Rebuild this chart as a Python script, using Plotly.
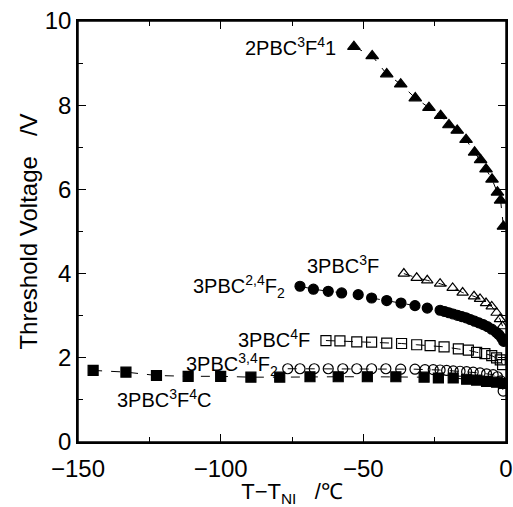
import plotly.graph_objects as go

# 2PBC3F41 (filled triangles)
x_2pbc3f41 = [-53.3, -46.9, -41.8, -36.9, -31.8, -27.0, -22.9, -20.0, -17.1, -14.0, -11.0, -8.9, -7.0, -4.9, -3.0, -1.9, -0.9]
y_2pbc3f41 = [9.39, 9.17, 8.74, 8.50, 8.17, 7.94, 7.75, 7.53, 7.40, 7.18, 6.88, 6.70, 6.48, 6.24, 5.93, 5.74, 5.12]

# 3PBC3F (open triangles)
x_3pbc3f = [-35.8, -31.3, -27.6, -23.1, -18.7, -15.2, -11.2, -9.1, -7.0, -5.0, -3.3, -2.1, -1.2]
y_3pbc3f = [4.00, 3.90, 3.84, 3.76, 3.66, 3.55, 3.46, 3.40, 3.30, 3.22, 3.07, 2.92, 2.75]

# 3PBC2,4F2 (filled circles)
x_3pbc24f2 = [-72.2, -67.5, -62.3, -57.6, -51.8, -47.1, -41.8, -36.8, -31.9, -27.6, -23.1,
              -21.5, -20.0, -18.5, -17.0, -15.5, -14.0, -12.5, -11.0, -9.5, -8.0, -6.5, -5.0, -3.5, -2.5, -1.5, -0.8]
y_3pbc24f2 = [3.70, 3.63, 3.58, 3.54, 3.50, 3.42, 3.36, 3.30, 3.24, 3.18, 3.13,
              3.10, 3.07, 3.04, 3.01, 2.98, 2.95, 2.91, 2.87, 2.83, 2.79, 2.74, 2.68, 2.61, 2.55, 2.47, 2.39]

# 3PBC4F (open squares)
x_3pbc4f = [-63.1, -58.2, -52.3, -47.1, -41.8, -36.6, -31.3, -26.6, -21.7, -16.7, -13.2, -10.3, -7.4, -5.0, -3.3, -2.0, -1.2]
y_3pbc4f = [2.41, 2.40, 2.38, 2.37, 2.35, 2.34, 2.31, 2.29, 2.26, 2.21, 2.18, 2.13, 2.10, 2.05, 2.00, 1.95, 1.84]

# 3PBC3,4F2 (open circles)
x_3pbc34f2 = [-76.5, -72.2, -67.2, -62.3, -57.2, -52.3, -47.1, -42.1, -36.9, -31.9, -28.4, -25.5, -23.1,
              -20.8, -18.5, -16.1, -13.8, -11.5, -9.1, -6.8, -4.5, -3.0, -1.8, -1.0]
y_3pbc34f2 = [1.74, 1.74, 1.74, 1.74, 1.74, 1.74, 1.74, 1.74, 1.73, 1.73, 1.72, 1.72, 1.71,
              1.70, 1.69, 1.68, 1.67, 1.66, 1.64, 1.62, 1.60, 1.55, 1.45, 1.21]

# 3PBC3F4C (filled squares)
x_3pbc3f4c = [-144.7, -133.2, -122.5, -111.4, -100.0, -89.4, -79.3, -68.7, -58.8, -48.6, -38.6, -28.7,
              -23.7, -18.5, -13.8, -10.3, -6.8, -3.3, -0.9]
y_3pbc3f4c = [1.70, 1.66, 1.58, 1.56, 1.56, 1.54, 1.54, 1.55, 1.55, 1.55, 1.55, 1.54,
              1.52, 1.52, 1.49, 1.47, 1.44, 1.42, 1.39]

x_ticks = [-150, -100, -50, 0]
y_ticks = [0, 2, 4, 6, 8, 10]

series = [
    (x_2pbc3f41, y_2pbc3f41, "triangle-up", 11),
    (x_3pbc3f, y_3pbc3f, "triangle-up-open", 10),
    (x_3pbc24f2, y_3pbc24f2, "circle", 10),
    (x_3pbc4f, y_3pbc4f, "square-open", 10),
    (x_3pbc34f2, y_3pbc34f2, "circle-open", 10),
    (x_3pbc3f4c, y_3pbc3f4c, "square", 10),
]

FONT = "Liberation Sans, Arial, sans-serif"

fig = go.Figure()
for xs, ys, sym, sz in series:
    fig.add_trace(go.Scatter(
        x=xs, y=ys, mode="lines+markers",
        line=dict(color="black", width=1, dash="dash"),
        marker=dict(symbol=sym, size=sz, color="black", line=dict(color="black", width=1.2)),
        showlegend=False,
    ))

labels = [
    ("2PBC<sup>3</sup>F<sup>4</sup>1", -59.0, 9.39, "right"),
    ("3PBC<sup>3</sup>F", -70.5, 4.21, "left"),
    ("3PBC<sup>2,4</sup>F<sub>2</sub>", -110.5, 3.69, "left"),
    ("3PBC<sup>4</sup>F", -94.5, 2.46, "left"),
    ("3PBC<sup>3,4</sup>F<sub>2</sub>", -113.0, 1.84, "left"),
    ("3PBC<sup>3</sup>F<sup>4</sup>C", -137.0, 1.03, "left"),
]
for txt, lx, ly, anc in labels:
    fig.add_annotation(x=lx, y=ly, xref="x", yref="y", text=txt, showarrow=False,
                       xanchor=anc, yanchor="middle",
                       font=dict(family=FONT, size=20, color="black"))

axis_common = dict(
    showline=True, linecolor="black", linewidth=1.5, mirror="ticks",
    ticks="inside", ticklen=8, tickwidth=1.3, tickcolor="black",
    showgrid=False, zeroline=False, automargin=False,
    tickfont=dict(family=FONT, size=24, color="black"),
)

fig.update_xaxes(range=[-150, 0], tickvals=x_ticks, ticklabelstandoff=4,
                 minor=dict(dtick=25, ticks="inside", ticklen=5, tickwidth=1.3, tickcolor="black", showgrid=False),
                 title=dict(text="T\u2212T<sub>NI</sub>   /\u2103", standoff=8,
                            font=dict(family=FONT, size=22, color="black")),
                 **axis_common)
fig.update_yaxes(range=[0, 10], tickvals=y_ticks,
                 minor=dict(dtick=1, ticks="inside", ticklen=5, tickwidth=1.3, tickcolor="black", showgrid=False),
                 title=dict(text="Threshold Voltage   /V", standoff=0,
                            font=dict(family=FONT, size=24, color="black")),
                 **axis_common)

# plot frame
fig.add_shape(type="rect", xref="paper", yref="paper", x0=0, y0=0, x1=1, y1=1,
              line=dict(color="black", width=1.5), fillcolor="rgba(0,0,0,0)", layer="above")

fig.update_layout(
    width=513, height=507,
    margin=dict(l=78, r=7, t=21, b=65),
    paper_bgcolor="white", plot_bgcolor="white",
)

fig.write_html("out.html", config={"displayModeBar": False},
               post_script="document.body.style.margin='0';document.body.style.overflow='hidden';")
